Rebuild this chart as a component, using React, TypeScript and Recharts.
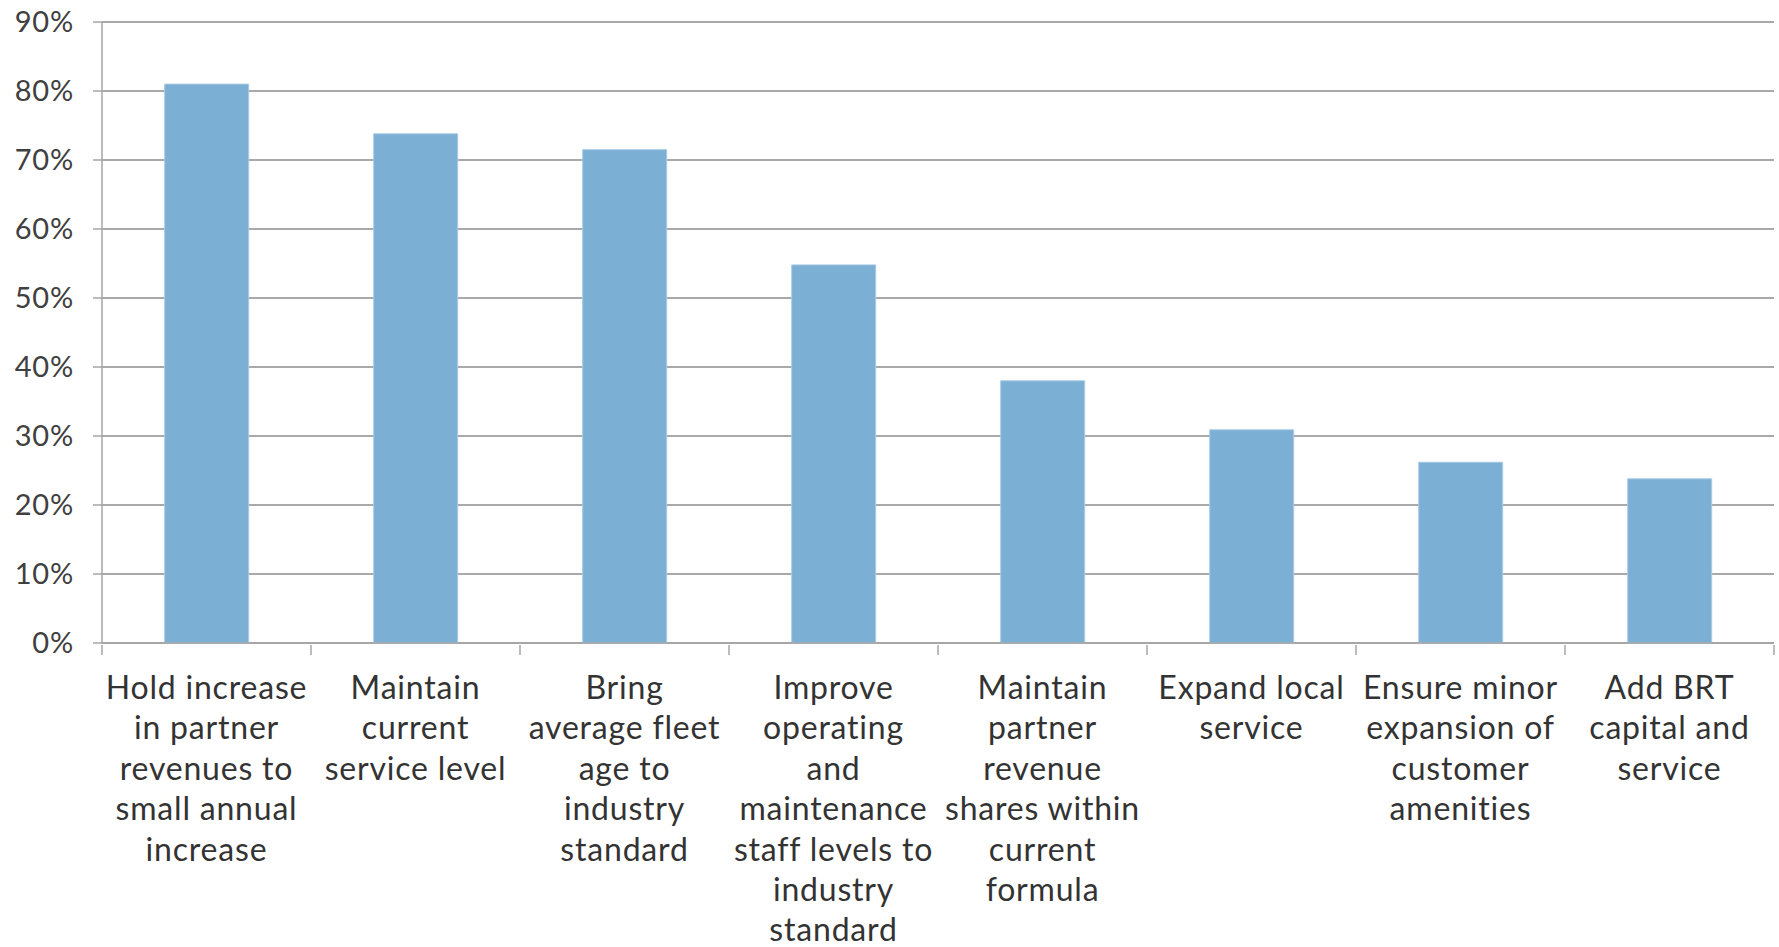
import { Bar, BarChart, CartesianGrid, XAxis, YAxis } from "recharts";

const categories = [
  "Hold increase\nin partner\nrevenues to\nsmall annual\nincrease",
  "Maintain\ncurrent\nservice level",
  "Bring\naverage fleet\nage to\nindustry\nstandard",
  "Improve\noperating\nand\nmaintenance\nstaff levels to\nindustry\nstandard",
  "Maintain\npartner\nrevenue\nshares within\ncurrent\nformula",
  "Expand local\nservice",
  "Ensure minor\nexpansion of\ncustomer\namenities",
  "Add BRT\ncapital and\nservice",
];

const shares = [81, 73.8, 71.5, 54.8, 38, 30.9, 26.2, 23.8];

const yTicks = [0, 10, 20, 30, 40, 50, 60, 70, 80, 90];

const data = categories.map((label, i) => ({ label, value: shares[i] }));

const FONT = "Lato, 'DejaVu Sans', sans-serif";
const AXIS = "#a6a6a6";

// labels under the bars, plus the tick marks that sit between categories
function CategoryTick(props: any) {
  const { x, y, payload, index, visibleTicksCount } = props;
  const half = payload.offset || 104.5;
  const lines = String(payload.value).split("\n");
  const top = y - 10;
  return (
    <g>
      <line x1={x - half} y1={top} x2={x - half} y2={top + 10} stroke={AXIS} strokeWidth={1.5} />
      {index === visibleTicksCount - 1 && (
        <line x1={x + half} y1={top} x2={x + half} y2={top + 10} stroke={AXIS} strokeWidth={1.5} />
      )}
      <text x={x} y={y} textAnchor="middle" fill="#333" fontSize={32} letterSpacing={0.8} fontFamily={FONT}>
        {lines.map((line, i) => (
          <tspan key={i} x={x} dy={i === 0 ? 44 : 40.4}>
            {line}
          </tspan>
        ))}
      </text>
    </g>
  );
}

export default function App() {
  return (
    <div style={{ position: "absolute", left: 0, top: 0, background: "#fff" }}>
      <BarChart
        width={1779}
        height={947}
        data={data}
        margin={{ top: 22, right: 5, left: 0, bottom: 0 }}
        barCategoryGap="30%"
      >
        <CartesianGrid vertical={false} stroke="#8c8c8c" strokeWidth={1.5} />
        <XAxis
          dataKey="label"
          interval={0}
          height={304}
          tick={<CategoryTick />}
          tickLine={false}
          axisLine={{ stroke: AXIS, strokeWidth: 1.5 }}
          tickSize={10}
        />
        <YAxis
          width={102}
          domain={[0, 90]}
          ticks={yTicks}
          interval={0}
          tickFormatter={(v: number) => `${v}%`}
          tick={{ fill: "#404040", fontSize: 29, letterSpacing: 0.8, fontFamily: FONT }}
          tickLine={{ stroke: AXIS, strokeWidth: 1.5 }}
          axisLine={{ stroke: AXIS, strokeWidth: 1.5 }}
          tickSize={9}
          tickMargin={19}
        />
        <Bar dataKey="value" fill="#7bafd4" stroke="#a9cbe4" strokeWidth={1} isAnimationActive={false} />
      </BarChart>
    </div>
  );
}
